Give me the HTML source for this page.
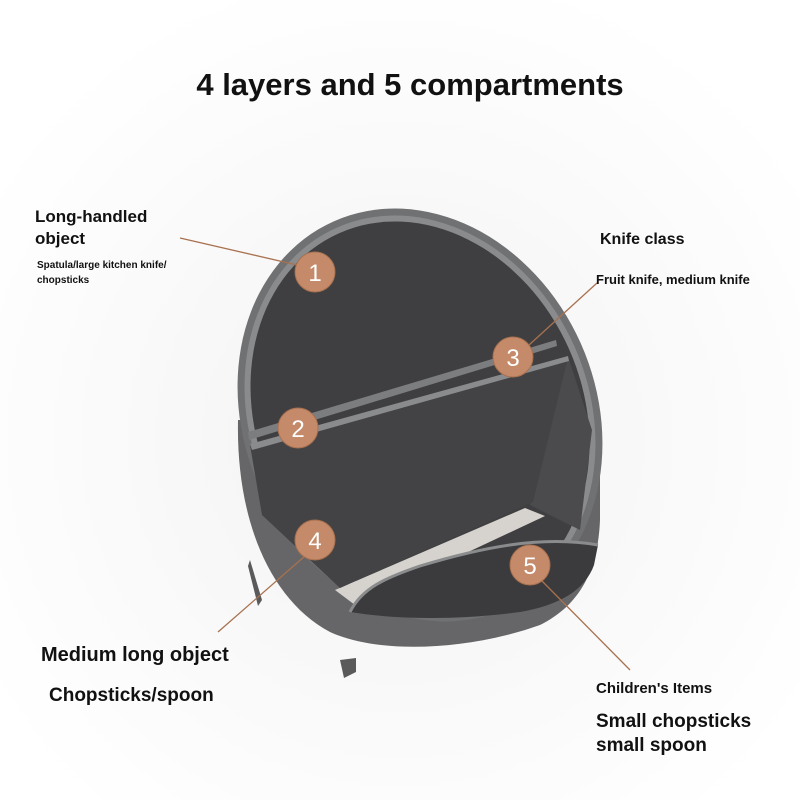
<!DOCTYPE html>
<html><head><style>
body{margin:0;width:800px;height:800px;background:#fff;font-family:"Liberation Sans",sans-serif;overflow:hidden}
svg{position:absolute;left:0;top:0}
.t{position:absolute;font-weight:bold;color:#111;white-space:nowrap}
</style></head><body>
<svg width="800" height="800" viewBox="0 0 800 800">
<defs>
<radialGradient id="bg" cx="50%" cy="55%" r="60%"><stop offset="0" stop-color="#f2f2f2"/><stop offset="1" stop-color="#ffffff"/></radialGradient>
</defs>
<rect width="800" height="800" fill="url(#bg)"/>
<path d="M250 560 L262 600 L258 606 L248 566Z" fill="#5a5a5a"/>
<path d="M340 660 L344 678 L356 672 L356 658Z" fill="#5a5a5a"/>
<path d="M238 420 C236 520 270 600 330 632 C380 655 470 650 540 625 C580 605 598 570 600 520 L600 420Z" fill="#666668"/>
<ellipse cx="420" cy="415" rx="176" ry="212" transform="rotate(-24 420 415)" fill="#707173"/>
<ellipse cx="420" cy="415" rx="169" ry="205" transform="rotate(-24 420 415)" fill="#8a8b8d"/>
<ellipse cx="420" cy="415" rx="163" ry="199" transform="rotate(-24 420 415)" fill="#3f3f41"/>
<path d="M568 357 L530 505 L580 530 L592 430Z" fill="#4b4b4d"/>
<path d="M335 590 L525 508 L545 516 L355 605Z" fill="#d6d2cd"/>
<path d="M250 445 L568 357 L533 502 L340 588 L262 515Z" fill="#434345"/>
<path d="M248 432 L556 340 L557 346 L249 440Z" fill="#7c7d7f"/>
<path d="M250 444 L568 356 L569 361 L252 450Z" fill="#8a8b8d"/>
<path d="M350 612 C362 588 385 578 420 566 C480 548 540 535 598 545 L594 565 C585 590 560 605 520 612 C460 620 400 620 350 612Z" fill="#3b3b3d"/>
<path d="M350 612 C362 588 385 578 420 566 C480 548 540 535 598 545" fill="none" stroke="#8a8b8d" stroke-width="3"/>
<g stroke="#a8714f" stroke-width="1.3">
<line x1="180" y1="238" x2="297" y2="265"/>
<line x1="529" y1="345" x2="597" y2="283"/>
<line x1="305" y1="556" x2="218" y2="632"/>
<line x1="541" y1="580" x2="630" y2="670"/>
</g>
<g fill="#c48a6a" stroke="#a8714f" stroke-width="1">
<circle cx="315" cy="272" r="20"/><circle cx="298" cy="428" r="20"/><circle cx="513" cy="357" r="20"/><circle cx="315" cy="540" r="20"/><circle cx="530" cy="565" r="20"/>
</g>
<g fill="#fff" font-family="Liberation Sans" font-size="24" text-anchor="middle">
<text x="315" y="281">1</text><text x="298" y="437">2</text><text x="513" y="366">3</text><text x="315" y="549">4</text><text x="530" y="574">5</text>
</g>
</svg>
<div class="t" style="left:0;width:820px;text-align:center;top:67px;font-size:31px">4 layers and 5 compartments</div>
<div class="t" style="left:35px;top:206px;font-size:17px;line-height:22px">Long-handled<br>object</div>
<div class="t" style="left:37px;top:258px;font-size:10px;line-height:15px">Spatula/large kitchen knife/<br>chopsticks</div>
<div class="t" style="left:600px;top:231px;font-size:16px">Knife class</div>
<div class="t" style="left:596px;top:272px;font-size:13px">Fruit knife, medium knife</div>
<div class="t" style="left:41px;top:644px;font-size:20px">Medium long object</div>
<div class="t" style="left:49px;top:685px;font-size:19px">Chopsticks/spoon</div>
<div class="t" style="left:596px;top:680px;font-size:15px">Children's Items</div>
<div class="t" style="left:596px;top:710px;font-size:19px;line-height:24px">Small chopsticks<br>small spoon</div>
</body></html>
